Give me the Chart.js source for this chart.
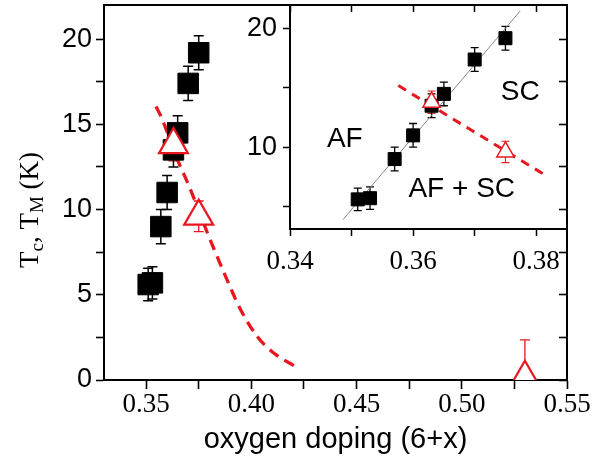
<!DOCTYPE html>
<html>
<head>
<meta charset="utf-8">
<script src="https://cdn.jsdelivr.net/npm/chart.js@4.4.0/dist/chart.umd.min.js"></script>
<style>
  html, body { margin: 0; padding: 0; background: #fff; }
  #wrap { position: relative; width: 604px; height: 459px; }
  #main { position: absolute; left: 0; top: 0; }
  #inset { position: absolute; left: 230px; top: 0; }
</style>
</head>
<body>
<div id="wrap">
  <canvas id="main" width="604" height="459"></canvas>
  <canvas id="inset" width="374" height="290"></canvas>
</div>
<script>
// Tc (black squares) vs oxygen doping
const tcDoping = [0.351, 0.353, 0.357, 0.360, 0.363, 0.365, 0.370, 0.375];
const tcValues = [5.6, 5.7, 9.0, 11.0, 13.5, 14.5, 17.4, 19.2];
const tcErrors = [0.95, 0.95, 1.0, 1.0, 1.0, 1.0, 1.0, 1.0];

// TM (red open triangles)
const tmDoping = [0.363, 0.375, 0.530];
const tmValues = [13.8, 9.6, 0.15];
const tmErrUp = [0.95, 0.9, 2.2];
const tmErrDown = [0.95, 0.9, 0];

// dashed guide in the main panel
const guideDoping = [0.3547, 0.3571, 0.3650, 0.3705, 0.3792, 0.3871, 0.3950, 0.4029, 0.4108, 0.4211];
const guideValues = [16.05, 15.46, 12.9, 11.35, 8.61, 6.27, 4.11, 2.54, 1.57, 0.78];

// inset guides
const insetDashDoping = [0.3576, 0.3815];
const insetDashValues = [15.2, 7.63];
const fitDoping = [0.3486, 0.3774];
const fitValues = [3.89, 21.5];

// inset phase labels
const insetLabels = ['AF', 'SC', 'AF + SC'];
const insetLabelDoping = [0.3489, 0.3774, 0.3679];
const insetLabelValues = [10.65, 14.6, 6.42];

// ticks
const mainXTicks = [0.35, 0.375, 0.40, 0.425, 0.45, 0.475, 0.50, 0.525, 0.55];
const mainXLabels = ['0.35', '', '0.40', '', '0.45', '', '0.50', '', '0.55'];
const mainYTicks = [0, 2.5, 5, 7.5, 10, 12.5, 15, 17.5, 20];
const mainYLabels = ['0', '', '5', '', '10', '', '15', '', '20'];
const insetXTicks = [0.34, 0.35, 0.36, 0.37, 0.38];
const insetXLabels = ['0.34', '', '0.36', '', '0.38'];
const insetYTicks = [5, 10, 15, 20];
const insetYLabels = ['', '10', '', '20'];

const RED = 'rgb(232, 22, 30)';
const pts = (xs, ys) => xs.map((x, i) => ({ x: x, y: ys[i] }));
const useTicks = list => scale => { scale.ticks = list.map(v => ({ value: v })); };
// fixed box sizes, no extra label padding pushed into the layout
const fixW = w => s => { s.width = w; s.paddingTop = 0; s.paddingBottom = 0; };
const fixH = h => s => { s.height = h; s.paddingLeft = 0; s.paddingRight = 0; };

Chart.defaults.font.family = "'Liberation Sans', Arial, sans-serif";
Chart.defaults.color = '#000';

const errorBars = {
    id: 'errorBars',
    beforeDatasetsDraw(chart) {
        const ctx = chart.ctx;
        const a = chart.chartArea;
        ctx.save();
        ctx.beginPath();
        ctx.rect(a.left, a.top, a.right - a.left, a.bottom - a.top);
        ctx.clip();
        chart.data.datasets.forEach((ds, i) => {
            if (!ds.errUp) return;
            const meta = chart.getDatasetMeta(i);
            const xs = chart.scales[meta.xAxisID];
            const ys = chart.scales[meta.yAxisID];
            ctx.strokeStyle = ds.errColor;
            ctx.lineWidth = ds.errWidth;
            ds.data.forEach((p, j) => {
                const x = xs.getPixelForValue(p.x);
                const top = ys.getPixelForValue(p.y + ds.errUp[j]);
                const bot = ys.getPixelForValue(p.y - ds.errDown[j]);
                ctx.beginPath();
                ctx.moveTo(x, top);
                ctx.lineTo(x, bot);
                ctx.moveTo(x - ds.errCap, top);
                ctx.lineTo(x + ds.errCap, top);
                if (ds.errDown[j] > 0) {
                    ctx.moveTo(x - ds.errCap, bot);
                    ctx.lineTo(x + ds.errCap, bot);
                }
                ctx.stroke();
            });
        });
        ctx.restore();
    }
};

// y title with subscripts: T_c, T_M (K)
const yTitle = {
    id: 'yTitle',
    afterDraw(chart) {
        const ctx = chart.ctx;
        const parts = [['T', 27, 0], ['c', 19, 5], [', ', 27, 0], ['T', 27, 0], ['M', 19, 5], [' (K)', 27, 0]];
        ctx.save();
        ctx.translate(38, 268);
        ctx.rotate(-Math.PI / 2);
        ctx.fillStyle = '#000';
        ctx.textBaseline = 'alphabetic';
        let x = 0;
        parts.forEach(([t, size, dy]) => {
            ctx.font = size + "px 'Liberation Serif'";
            ctx.fillText(t, x, dy);
            x += ctx.measureText(t).width;
        });
        ctx.restore();
    }
};

const phaseLabels = {
    id: 'phaseLabels',
    afterDatasetsDraw(chart) {
        const ctx = chart.ctx;
        ctx.save();
        ctx.font = "28px 'Liberation Sans'";
        ctx.fillStyle = '#000';
        ctx.textAlign = 'center';
        ctx.textBaseline = 'middle';
        insetLabels.forEach((t, i) => {
            ctx.fillText(t, chart.scales.x.getPixelForValue(insetLabelDoping[i]),
                chart.scales.y.getPixelForValue(insetLabelValues[i]));
        });
        ctx.restore();
    }
};

const axisBorder = { color: '#000', width: 2 };

new Chart(document.getElementById('main'), {
    type: 'scatter',
    data: {
        datasets: [{
            data: pts(tmDoping, tmValues),
            pointStyle: 'triangle',
            pointRadius: 16.7,
            borderColor: RED,
            backgroundColor: '#fff',
            borderWidth: 2.2,
            clip: 0,
            errUp: tmErrUp, errDown: tmErrDown, errColor: RED, errWidth: 1.3, errCap: 5
        }, {
            data: pts(tcDoping, tcValues),
            pointStyle: 'rect',
            pointRadius: 14.5,
            borderColor: '#000',
            backgroundColor: '#000',
            borderWidth: 1,
            errUp: tcErrors, errDown: tcErrors, errColor: '#000', errWidth: 1.5, errCap: 5
        }, {
            data: pts(guideDoping, guideValues),
            showLine: true,
            borderColor: RED,
            borderWidth: 3.3,
            borderDash: [11, 7],
            pointRadius: 0,
            cubicInterpolationMode: 'monotone'
        }]
    },
    options: {
        responsive: false,
        animation: false,
        events: [],
        layout: { autoPadding: false, padding: { left: 0, top: 5, right: 37, bottom: 0 } },
        plugins: { legend: { display: false }, tooltip: { enabled: false } },
        scales: {
            x: {
                min: 0.33, max: 0.55,
                afterBuildTicks: useTicks(mainXTicks),
                afterFit: fixH(79),
                ticks: {
                    callback: (v, i) => mainXLabels[i],
                    font: { family: "'Liberation Serif'", size: 27 },
                    padding: 0, maxRotation: 0, autoSkip: false
                },
                grid: { drawOnChartArea: false, tickLength: 9, tickWidth: 1.6, tickColor: '#000' },
                border: axisBorder,
                title: {
                    display: true,
                    text: 'oxygen doping (6+x)',
                    font: { size: 29 },
                    padding: { top: 0, bottom: 2 }
                }
            },
            xTop: {
                type: 'linear', position: 'top',
                min: 0.33, max: 0.55,
                afterFit: fixH(0),
                ticks: { display: false },
                grid: { drawOnChartArea: false, drawTicks: false },
                border: axisBorder
            },
            y: {
                min: 0, max: 22,
                afterBuildTicks: useTicks(mainYTicks),
                afterFit: fixW(104),
                ticks: {
                    callback: (v, i) => mainYLabels[i],
                    font: { size: 27 },
                    padding: 4
                },
                grid: { drawOnChartArea: false, tickLength: 8, tickWidth: 1.6, tickColor: '#000' },
                border: axisBorder
            },
            yRight: {
                type: 'linear', position: 'right',
                min: 0, max: 22,
                afterBuildTicks: useTicks(mainYTicks),
                afterFit: fixW(0),
                ticks: { display: false },
                grid: { drawOnChartArea: false, tickLength: -8, tickWidth: 1.6, tickColor: '#000' },
                border: axisBorder
            }
        }
    },
    plugins: [errorBars, yTitle]
});

new Chart(document.getElementById('inset'), {
    type: 'scatter',
    data: {
        datasets: [{
            data: pts(tmDoping, tmValues),
            pointStyle: 'triangle',
            pointRadius: 10,
            borderColor: RED,
            backgroundColor: '#fff',
            borderWidth: 1.5,
            clip: 0,
            errUp: tmErrUp, errDown: tmErrDown, errColor: RED, errWidth: 1.1, errCap: 4
        }, {
            data: pts(tcDoping, tcValues),
            pointStyle: 'rect',
            pointRadius: 9.2,
            borderColor: '#000',
            backgroundColor: '#000',
            borderWidth: 1,
            clip: 0,
            errUp: tcErrors, errDown: tcErrors, errColor: '#000', errWidth: 1.3, errCap: 4
        }, {
            data: pts(insetDashDoping, insetDashValues),
            showLine: true,
            borderColor: RED,
            borderWidth: 3,
            borderDash: [9, 7],
            pointRadius: 0
        }, {
            data: pts(fitDoping, fitValues),
            showLine: true,
            borderColor: '#888',
            borderWidth: 1,
            pointRadius: 0
        }]
    },
    options: {
        responsive: false,
        animation: false,
        events: [],
        layout: { autoPadding: false, padding: { left: 0, top: 5, right: 37, bottom: 0 } },
        plugins: { legend: { display: false }, tooltip: { enabled: false } },
        scales: {
            x: {
                min: 0.34, max: 0.385,
                afterBuildTicks: useTicks(insetXTicks),
                afterFit: fixH(61),
                ticks: {
                    callback: (v, i) => insetXLabels[i],
                    font: { family: "'Liberation Serif'", size: 27 },
                    padding: 10, maxRotation: 0, autoSkip: false
                },
                grid: { drawOnChartArea: false, tickLength: 7, tickWidth: 1.5, tickColor: '#000' },
                border: axisBorder
            },
            xTop: {
                type: 'linear', position: 'top',
                min: 0.34, max: 0.385,
                afterBuildTicks: useTicks(insetXTicks),
                afterFit: fixH(0),
                ticks: { display: false },
                grid: { drawOnChartArea: false, tickLength: -7, tickWidth: 1.5, tickColor: '#000' },
                border: axisBorder
            },
            y: {
                min: 3.1, max: 22,
                afterBuildTicks: useTicks(insetYTicks),
                afterFit: fixW(60),
                ticks: {
                    callback: (v, i) => insetYLabels[i],
                    font: { size: 27 },
                    padding: 6
                },
                grid: { drawOnChartArea: false, tickLength: 7, tickWidth: 1.5, tickColor: '#000' },
                border: axisBorder
            }
        }
    },
    plugins: [errorBars, phaseLabels]
});
</script>
</body>
</html>
